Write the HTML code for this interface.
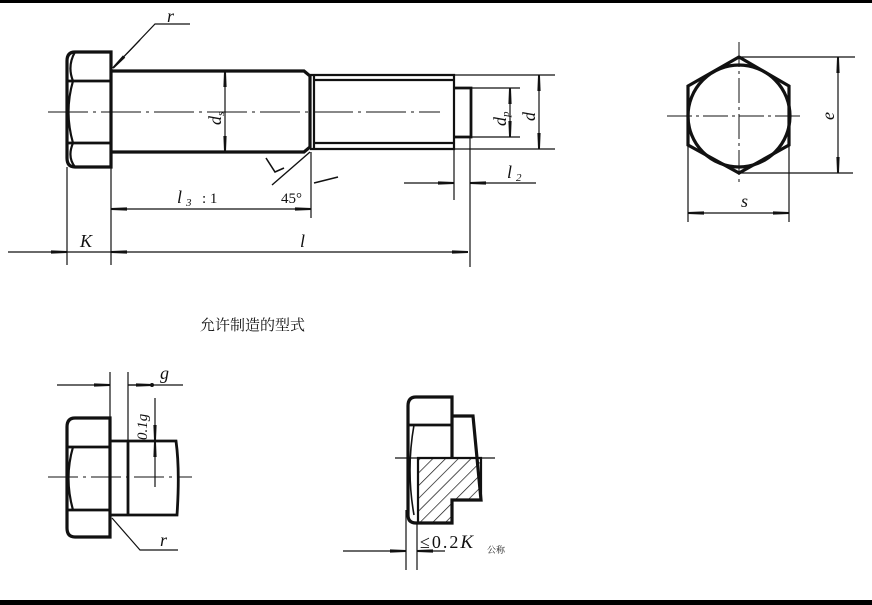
<!DOCTYPE html>
<html><head><meta charset="utf-8"><style>
html,body{margin:0;padding:0;background:#fff;}
svg{display:block;}
text{font-family:"Liberation Serif","Noto Serif CJK SC",serif;fill:#111;}
</style></head><body>
<svg width="872" height="605" viewBox="0 0 872 605" xmlns="http://www.w3.org/2000/svg">
<defs>
<marker id="a" viewBox="0 0 20 6" refX="20" refY="3" markerWidth="16" markerHeight="5" orient="auto-start-reverse" markerUnits="userSpaceOnUse"><path d="M0,1 L20,1.8 L20,4.2 L0,5Z" fill="#111"/></marker>
<pattern id="h" width="9" height="9" patternUnits="userSpaceOnUse" patternTransform="rotate(45)"><line x1="0" y1="0" x2="0" y2="9" stroke="#111" stroke-width="1.4"/></pattern>
</defs>
<rect x="0" y="0" width="872" height="3" fill="#000"/>
<rect x="0" y="600" width="872" height="5" fill="#000"/>
<g fill="none" stroke="#111">
<path d="M75,52 H111 V167 H75 Q67,167 67,158 V61 Q67,52 75,52Z" stroke-width="3.2"/>
<path d="M67,81 H111 M67,143 H111" stroke-width="2.8"/>
<path d="M75,52 Q67,66 73,81 M73,81 Q64,112 73,143 M73,143 Q67,157 75,167" stroke-width="2.2"/>
<path d="M111,71 H304 L310,76 V147 L304,152 H111" stroke-width="3.2"/>
<path d="M310,75 H454 V149 H310 M314,80 H454 M314,143 H454 M314,76 V148" stroke-width="2.2"/>
<path d="M454,88 H471 V137 H454" stroke-width="2.8"/>
<path d="M48,112 H440" stroke-width="1" stroke-dasharray="40,5,3,5"/>
<path d="M113,68 L155,24 H190" stroke-width="1.2"/>
<line x1="140" y1="40" x2="113" y2="68" stroke-width="1.2" marker-end="url(#a)"/>
<line x1="225" y1="71" x2="225" y2="152" stroke-width="1.2" marker-start="url(#a)" marker-end="url(#a)"/>
<path d="M471,88 H520 M471,137 H520 M454,75 H555 M454,149 H555" stroke-width="1.2"/>
<line x1="510" y1="88" x2="510" y2="137" stroke-width="1.2" marker-start="url(#a)" marker-end="url(#a)"/>
<line x1="539" y1="75" x2="539" y2="149" stroke-width="1.2" marker-start="url(#a)" marker-end="url(#a)"/>
<path d="M310,152 L272,185" stroke-width="1.4"/>
<path d="M266,158 L275,172 L284,168" stroke-width="1.6"/>
<path d="M314,183 L338,177" stroke-width="1.6"/>
<path d="M67,167 V265 M111,167 V265 M311,152 V218 M454,149 V200 M470,137 V267" stroke-width="1.2"/>
<line x1="404" y1="183" x2="454" y2="183" stroke-width="1.2" marker-end="url(#a)"/>
<line x1="536" y1="183" x2="470" y2="183" stroke-width="1.2" marker-end="url(#a)"/>
<line x1="111" y1="209" x2="311" y2="209" stroke-width="1.2" marker-start="url(#a)" marker-end="url(#a)"/>
<line x1="8" y1="252" x2="67" y2="252" stroke-width="1.2" marker-end="url(#a)"/>
<line x1="111" y1="252" x2="468" y2="252" stroke-width="1.2" marker-start="url(#a)" marker-end="url(#a)"/>
<line x1="67" y1="252" x2="111" y2="252" stroke-width="1.2"/>
<polygon points="739,57 789,86 789,145 739,173 688,145 688,86" stroke-width="3.2"/>
<circle cx="739" cy="116" r="51" stroke-width="3.2"/>
<path d="M667,116 H803 M739,42 V185" stroke-width="1" stroke-dasharray="25,4,3,4"/>
<path d="M739,57 H855 M739,173 H853 M688,145 V222 M789,145 V222" stroke-width="1.2"/>
<line x1="838" y1="57" x2="838" y2="173" stroke-width="1.2" marker-start="url(#a)" marker-end="url(#a)"/>
<line x1="688" y1="213" x2="789" y2="213" stroke-width="1.2" marker-start="url(#a)" marker-end="url(#a)"/>
<path d="M75,418 H110 V537 H75 Q67,537 67,528 V427 Q67,418 75,418Z" stroke-width="3.2"/>
<path d="M67,447 H110 M67,510 H110" stroke-width="2.8"/>
<path d="M73,447 Q64,478 73,510" stroke-width="2.2"/>
<path d="M110,441 H176 Q180,470 177,515 H110 M128,441 V515" stroke-width="2.8"/>
<path d="M110,372 V441 M128,372 V441" stroke-width="1.2"/>
<path d="M48,477 H192" stroke-width="1" stroke-dasharray="30,5,3,5"/>
<line x1="57" y1="385" x2="110" y2="385" stroke-width="1.2" marker-end="url(#a)"/>
<line x1="183" y1="385" x2="128" y2="385" stroke-width="1.2"/>
<line x1="128" y1="385" x2="152" y2="385" stroke-width="1.2" marker-end="url(#a)"/>
<circle cx="152" cy="385" r="2" fill="#111" stroke="none"/>
<line x1="155" y1="398" x2="155" y2="441" stroke-width="1.2" marker-end="url(#a)"/>
<line x1="155" y1="487" x2="155" y2="441" stroke-width="1.2" marker-end="url(#a)"/>
<path d="M112,518 L140,550 H178" stroke-width="1.2"/>
<path d="M416,397 H452 V458 M416,397 Q408,397 408,406 V515 Q408,523 416,523 H452 V500 H481 L473,416 H452" stroke-width="3.2"/>
<path d="M408,425 H452" stroke-width="2.8"/>
<path d="M418,458 V523 M414,425 Q406,470 414,515" stroke-width="1.6"/>
<path d="M418,458 H481 V500 H452 V523 H418Z" fill="url(#h)" stroke-width="2.2"/>
<path d="M395,458 H495" stroke-width="1.2"/>
<path d="M406,510 V570 M417,523 V570" stroke-width="1.2"/>
<line x1="343" y1="551" x2="406" y2="551" stroke-width="1.2" marker-end="url(#a)"/>
<line x1="445" y1="551" x2="417" y2="551" stroke-width="1.2" marker-end="url(#a)"/>
</g>
<g font-style="italic">
<text x="167" y="22" font-size="18">r</text>
<text x="80" y="247" font-size="18">K</text>
<text x="300" y="247" font-size="18">l</text>
<text x="507" y="178" font-size="18">l</text><text x="516" y="181" font-size="11">2</text>
<text x="177" y="203" font-size="18">l</text><text x="186" y="206" font-size="11">3</text>
<text x="160" y="546" font-size="18">r</text>
<text x="160" y="379" font-size="18">g</text>
<text x="741" y="207" font-size="18">s</text>
<text transform="translate(834,120) rotate(-90)" font-size="18">e</text>
<text transform="translate(221,125) rotate(-90)" font-size="18">d<tspan font-size="11" dy="3">s</tspan></text>
<text transform="translate(506,126) rotate(-90)" font-size="18">d<tspan font-size="11" dy="3">p</tspan></text>
<text transform="translate(535,121) rotate(-90)" font-size="18">d</text>
<text transform="translate(147,440) rotate(-90)" font-size="15">0.1g</text>
</g>
<text x="202" y="203" font-size="15">:  1</text>
<text x="281" y="203" font-size="15">45°</text>
<text x="420" y="548" font-size="18" letter-spacing="2">≤0.2<tspan font-style="italic" font-size="19">K</tspan></text>
<text x="487" y="553" font-size="9">公称</text>
<text x="200" y="330" font-size="15" font-family="'Noto Sans CJK SC',sans-serif">允许制造的型式</text>
</svg>
</body></html>
